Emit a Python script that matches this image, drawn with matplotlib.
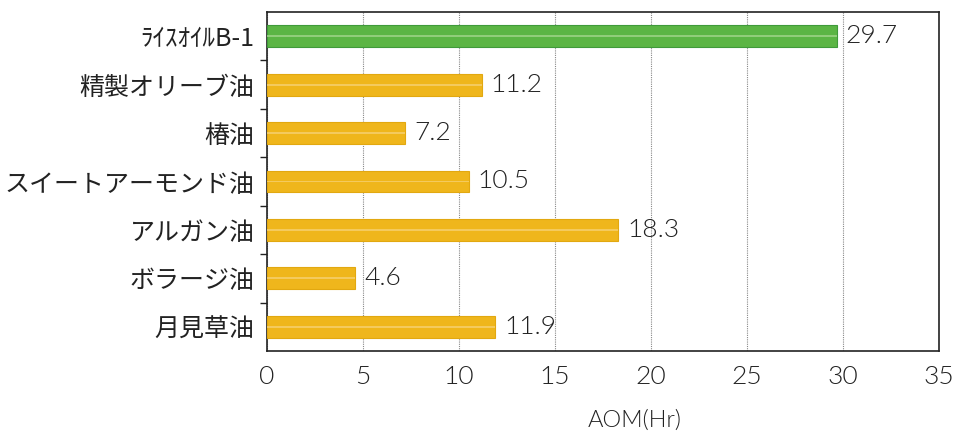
import matplotlib
matplotlib.use("Agg")
import matplotlib.pyplot as plt
import numpy as np

categories = ["ﾗｲｽｵｲﾙB-1", "精製オリーブ油", "椿油", "スイートアーモンド油", "アルガン油", "ボラージ油", "月見草油"]
values = [29.7, 11.2, 7.2, 10.5, 18.3, 4.6, 11.9]
value_labels = ["29.7", "11.2", "7.2", "10.5", "18.3", "4.6", "11.9"]
xticks = [0, 5, 10, 15, 20, 25, 30, 35]

plt.rcParams['font.family'] = ['Noto Sans CJK JP', 'DejaVu Sans']
num_font = dict(family=['Lato', 'DejaVu Sans'], weight=300)

fig = plt.figure(figsize=(9.62, 4.36), dpi=100)
ax = fig.add_axes([267/962, 1-351/436, (939-267)/962, (351-12)/436])

y = np.arange(len(categories))
colors = ["#5bb544"] + ["#efb61c"] * (len(categories) - 1)
edges = ["#3f9a3a"] + ["#e2a810"] * (len(categories) - 1)
hl = ["#9fd488"] + ["#f6d070"] * (len(categories) - 1)
ax.barh(y, values, height=0.45, color=colors, edgecolor=edges, linewidth=0.8, zorder=3)
ax.barh(y, values, height=0.04, color=hl, linewidth=0, alpha=0.8, zorder=4)

for yi, v, s in zip(y, values, value_labels):
    ax.text(v + 0.45, yi, s, va='center', ha='left', fontsize=19, color='#222222',
            zorder=5, **num_font)

ax.set_xlim(0, 35)
ax.set_ylim(len(categories) - 0.5, -0.5)
ax.set_xticks(xticks)
ax.set_xticklabels([str(t) for t in xticks], fontsize=19, color='#222222', **num_font)
ax.set_yticks(y)
ax.set_yticklabels(categories, color='#222222')
for i, lbl in enumerate(ax.get_yticklabels()):
    lbl.set_fontsize(18)
ax.set_yticks(np.arange(len(categories) - 1) + 0.5, minor=True)
ax.tick_params(axis='y', which='major', length=0, pad=9)
ax.tick_params(axis='y', which='minor', length=5, width=1, direction='out', color='#222222')
ax.tick_params(axis='x', which='major', length=0, pad=10)

ax.grid(axis='x', color='#888888', linestyle=(0, (1, 1)), linewidth=0.8, zorder=0)
for sp in ax.spines.values():
    sp.set_color('#222222')
    sp.set_linewidth(1.2)

fig.text(635/962, 1-420/436, "AOM(Hr)", ha='center', va='center', fontsize=17, color='#222222',
         **num_font)

fig.savefig("out.png", dpi=100)
